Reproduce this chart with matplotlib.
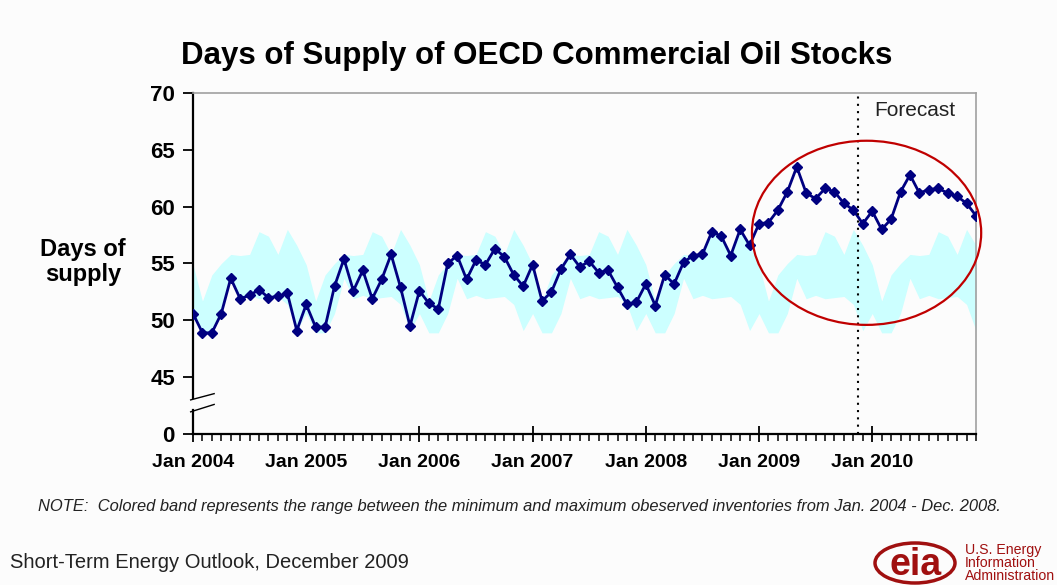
import numpy as np
import matplotlib.pyplot as plt
from matplotlib.patches import Ellipse

plt.rcParams['font.family'] = ['Liberation Sans', 'DejaVu Sans']

# monthly days of supply, Jan 2004 - Dec 2010 (forecast from Dec 2009)
days_supply = [
    50.6, 48.9, 48.9, 50.6, 53.7, 51.9, 52.2, 52.7, 52.0, 52.1, 52.4, 49.1,  # 2004
    51.4, 49.4, 49.4, 53.0, 55.4, 52.6, 54.4, 51.9, 53.6, 55.8, 52.9, 49.5,  # 2005
    52.6, 51.5, 51.0, 55.0, 55.7, 53.6, 55.3, 54.9, 56.3, 55.6, 54.0, 53.0,  # 2006
    54.9, 51.7, 52.5, 54.5, 55.8, 54.7, 55.2, 54.2, 54.4, 52.9, 51.4, 51.6,  # 2007
    53.2, 51.3, 54.0, 53.2, 55.1, 55.7, 55.8, 57.8, 57.4, 55.7, 58.0, 56.6,  # 2008
    58.5, 58.6, 59.7, 61.3, 63.5, 61.2, 60.7, 61.6, 61.3, 60.3, 59.7, 58.5,  # 2009
    59.6, 58.0, 58.9, 61.3, 62.8, 61.2, 61.5, 61.6, 61.2, 60.9, 60.3, 59.2,  # 2010
]

# min / max observed by calendar month, 2004-2008 (the shaded band)
band_min = [50.6, 48.9, 48.9, 50.6, 53.7, 51.9, 52.2, 51.9, 52.0, 52.1, 51.4, 49.1]
band_max = [54.9, 51.7, 54.0, 55.0, 55.8, 55.7, 55.8, 57.8, 57.4, 55.8, 58.0, 56.6]

years = [2004, 2005, 2006, 2007, 2008, 2009, 2010]
year_labels = ['Jan %d' % y for y in years]
y_ticks = [45, 50, 55, 60, 65, 70]
forecast_start = 70.5

months = np.arange(len(days_supply))
lo = np.tile(band_min, len(years))
hi = np.tile(band_max, len(years))

bg = '#fcfcfc'
fig = plt.figure(figsize=(10.57, 5.85), dpi=100, facecolor=bg)
ax = fig.add_axes([193 / 1057, 1 - 434 / 585, 783 / 1057, 341 / 585])
ax.set_facecolor(bg)

ax.fill_between(months, lo, hi, color='#ccffff', linewidth=0, zorder=1)
ax.plot(months, days_supply, color='#000080', lw=2, marker='D', ms=5, zorder=3)
ax.axvline(forecast_start, color='black', ls=(0, (1, 2.5)), lw=1.5, zorder=4)
ax.text(forecast_start + 1.7, 68.5, 'Forecast', fontsize=15, ha='left', va='center', color='#222222')

ax.add_patch(Ellipse((71.4, 57.7), 24.3, 16.2, fill=False, edgecolor='#c00000', lw=1.6,
                     zorder=5, clip_on=False))

ax.set_xlim(0, 83)
ax.set_ylim(40, 70)

ax.set_xticks(np.arange(0, 84, 12))
ax.set_xticklabels(year_labels, fontsize=14, fontweight='bold')
ax.set_xticks(np.arange(0, 84), minor=True)
ax.tick_params(axis='x', which='major', direction='inout', length=11, width=1.3, pad=9)
ax.tick_params(axis='x', which='minor', direction='out', length=5, width=1.1)

ax.set_yticks([40] + y_ticks)
ax.set_yticklabels(['0'] + [str(v) for v in y_ticks], fontsize=16, fontweight='bold')
ax.tick_params(axis='y', direction='out', length=7, width=1.3, pad=6)

for s in ['top', 'right']:
    ax.spines[s].set_color('#a0a0a0')
    ax.spines[s].set_linewidth(1.2)
ax.spines['bottom'].set_linewidth(1.6)
ax.spines['left'].set_visible(False)

# left axis with a break between 0 and 45
yt = ax.get_yaxis_transform()
ax.plot([0, 0], [43.2, 70], color='black', lw=1.6, transform=yt, clip_on=False)
ax.plot([0, 0], [40, 42.1], color='black', lw=1.6, transform=yt, clip_on=False)
ax.plot([-0.003, 0.027], [43.0, 43.55], color='black', lw=1, transform=yt, clip_on=False)
ax.plot([-0.003, 0.027], [41.95, 42.6], color='black', lw=1, transform=yt, clip_on=False)

fig.text(83 / 1057, 1 - 262 / 585, 'Days of\nsupply', fontsize=17, fontweight='bold',
         ha='center', va='center', linespacing=1.1)
fig.text(537 / 1057, 1 - 56 / 585, 'Days of Supply of OECD Commercial Oil Stocks',
         fontsize=22.5, fontweight='bold', ha='center', va='center')

fig.text(38 / 1057, 1 - 507 / 585,
         'NOTE:  Colored band represents the range between the minimum and maximum obeserved '
         'inventories from Jan. 2004 - Dec. 2008.',
         fontsize=11.9, style='italic', ha='left', va='center', color='#222222')
fig.text(10 / 1057, 1 - 563 / 585, 'Short-Term Energy Outlook, December 2009',
         fontsize=14.5, ha='left', va='center', color='#222222')

# EIA logo
logo_red = '#a01010'
fig.patches.append(Ellipse((915 / 1057, 1 - 563 / 585), 80 / 1057, 40 / 585, fill=False,
                           edgecolor=logo_red, lw=2.5, transform=fig.transFigure))
fig.text(916 / 1057, 1 - 565 / 585, 'eia', fontsize=27, fontweight='bold', color=logo_red,
         ha='center', va='center')
fig.text(965 / 1057, 1 - 563 / 585, 'U.S. Energy\nInformation\nAdministration', fontsize=10.2,
         color=logo_red, ha='left', va='center', linespacing=0.95)

fig.savefig('out.png', dpi=100, facecolor=bg)
